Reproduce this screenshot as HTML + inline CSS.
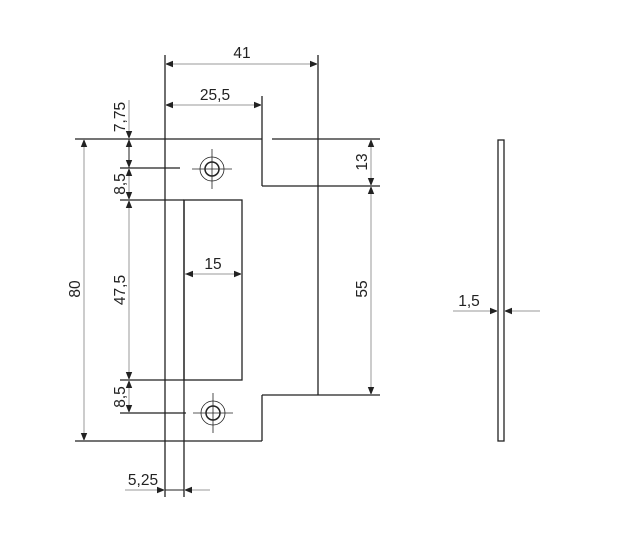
<!DOCTYPE html>
<html><head><meta charset="utf-8"><style>
html,body{margin:0;padding:0;background:#fff;}
svg{display:block;}
text{font-family:"Liberation Sans",sans-serif;font-size:15.5px;fill:#222;}
</style></head><body>
<svg width="642" height="537" viewBox="0 0 642 537" xmlns="http://www.w3.org/2000/svg">
<defs>
<marker id="a" viewBox="0 0 10 10" refX="10" refY="5" markerWidth="8" markerHeight="8" orient="auto-start-reverse" markerUnits="userSpaceOnUse">
<path d="M0,1 L10,5 L0,9 z" fill="#222"/></marker>
</defs>
<g stroke="#222" stroke-width="1.3" fill="none">
<line x1="75" y1="139" x2="262" y2="139"/>
<line x1="272" y1="139" x2="380" y2="139"/>
<line x1="262" y1="96" x2="262" y2="186"/>
<line x1="262" y1="186" x2="380" y2="186"/>
<line x1="318" y1="55" x2="318" y2="395"/>
<line x1="262" y1="395" x2="380" y2="395"/>
<line x1="262" y1="395" x2="262" y2="441"/>
<line x1="75" y1="441" x2="262" y2="441"/>
<line x1="165" y1="55" x2="165" y2="497"/>
<line x1="184" y1="200" x2="184" y2="497"/>
<rect x="184" y="200" width="58" height="180"/>
<line x1="120" y1="200" x2="184" y2="200"/>
<line x1="120" y1="380" x2="184" y2="380"/>
<line x1="120" y1="168" x2="180" y2="168"/>
<line x1="120" y1="413" x2="186" y2="413"/>
<rect x="498" y="140" width="6" height="301"/>
</g>
<g stroke="#222" fill="none">
<g transform="translate(212,169)"><circle r="12" stroke-width="0.8"/><circle r="7" stroke-width="1.5"/><line x1="-20" y1="0" x2="20" y2="0" stroke-width="0.8"/><line x1="0" y1="-20" x2="0" y2="20" stroke-width="0.8"/></g>
<g transform="translate(213,413)"><circle r="12" stroke-width="0.8"/><circle r="7" stroke-width="1.5"/><line x1="-20" y1="0" x2="20" y2="0" stroke-width="0.8"/><line x1="0" y1="-20" x2="0" y2="20" stroke-width="0.8"/></g>
</g>
<g stroke="#999" stroke-width="1" fill="none">
<line x1="165" y1="64" x2="318" y2="64" marker-start="url(#a)" marker-end="url(#a)"/>
<line x1="165" y1="105" x2="262" y2="105" marker-start="url(#a)" marker-end="url(#a)"/>
<line x1="84" y1="139" x2="84" y2="441" marker-start="url(#a)" marker-end="url(#a)"/>
<line x1="129" y1="100" x2="129" y2="139" marker-end="url(#a)"/>
<line x1="129" y1="139" x2="129" y2="168" marker-start="url(#a)" marker-end="url(#a)" stroke="#222"/>
<line x1="129" y1="168" x2="129" y2="200" marker-start="url(#a)" marker-end="url(#a)"/>
<line x1="129" y1="200" x2="129" y2="380" marker-start="url(#a)" marker-end="url(#a)"/>
<line x1="129" y1="380" x2="129" y2="413" marker-start="url(#a)" marker-end="url(#a)"/>
<line x1="371" y1="139" x2="371" y2="186" marker-start="url(#a)" marker-end="url(#a)"/>
<line x1="371" y1="186" x2="371" y2="395" marker-start="url(#a)" marker-end="url(#a)"/>
<line x1="185" y1="274" x2="242" y2="274" marker-start="url(#a)" marker-end="url(#a)"/>
<line x1="125" y1="490" x2="165" y2="490" marker-end="url(#a)"/>
<line x1="165" y1="490" x2="184" y2="490" stroke="#222"/>
<line x1="210" y1="490" x2="184" y2="490" marker-end="url(#a)"/>
<line x1="453" y1="311" x2="498" y2="311" marker-end="url(#a)"/>
<line x1="540" y1="311" x2="504" y2="311" marker-end="url(#a)"/>
</g>
<text x="242" y="58" text-anchor="middle">41</text>
<text x="215" y="100" text-anchor="middle">25,5</text>
<text x="213" y="269" text-anchor="middle">15</text>
<text x="143" y="485" text-anchor="middle">5,25</text>
<text x="469" y="306" text-anchor="middle">1,5</text>
<text transform="translate(125,117) rotate(-90)" text-anchor="middle">7,75</text>
<text transform="translate(125,184) rotate(-90)" text-anchor="middle">8,5</text>
<text transform="translate(125,290) rotate(-90)" text-anchor="middle">47,5</text>
<text transform="translate(125,397) rotate(-90)" text-anchor="middle">8,5</text>
<text transform="translate(80,289) rotate(-90)" text-anchor="middle">80</text>
<text transform="translate(367,162) rotate(-90)" text-anchor="middle">13</text>
<text transform="translate(367,289) rotate(-90)" text-anchor="middle">55</text>
</svg>
</body></html>
